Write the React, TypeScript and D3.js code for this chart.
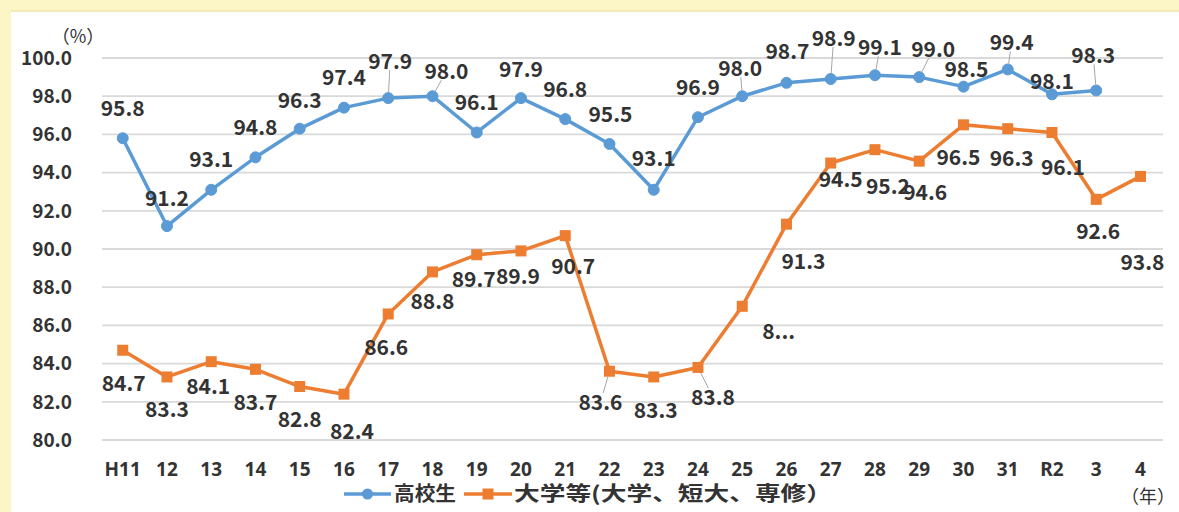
import React from "react";
import * as d3 from "d3";

const categories = ["H11","12","13","14","15","16","17","18","19","20","21","22","23","24","25","26","27","28","29","30","31","R2","3","4"];
const highSchool = [95.8,91.2,93.1,94.8,96.3,97.4,97.9,98.0,96.1,97.9,96.8,95.5,93.1,96.9,98.0,98.7,98.9,99.1,99.0,98.5,99.4,98.1,98.3];
const university = [84.7,83.3,84.1,83.7,82.8,82.4,86.6,88.8,89.7,89.9,90.7,83.6,83.3,83.8,87.0,91.3,94.5,95.2,94.6,96.5,96.3,96.1,92.6,93.8];
const yTicks = [80,82,84,86,88,90,92,94,96,98,100];
const seriesNames = ["高校生","大学等(大学、短大、専修）"];

// label placement (dx, dy from point, leader flag)
const blueLabelPos: [number, number, boolean][] = [
  [0,-30,false],[0,-28,false],[0,-30,false],[0,-30,false],[0,-28,false],[0,-30,false],
  [2,-37,true],[14,-25,true],[0,-30,false],[0,-29,false],[0,-30,false],[1,-30,false],
  [0,-31,false],[0,-30,false],[-2,-28,true],[1,-31,false],[3,-41,true],[5,-28,true],
  [14,-28,true],[3,-17,false],[4,-27,true],[0,-13,false],[-3,-35,true]
];
const orangeLabelPos: [number, number, boolean][] = [
  [1,33,false],[0,32,false],[-3,25,false],[0,33,false],[0,33,false],[8,37,false],
  [-2,33,false],[0,30,false],[-3,25,false],[-3,26,false],[8,31,false],[-9,31,true],
  [2,33,false],[15,30,true],[20,25,false],[17,37,false],[10,16,false],[13,37,false],
  [6,31,false],[-5,33,false],[4,30,false],[11,35,false],[2,32,false],[2,86,false]
];

const W = 1179, H = 512;
const BLUE = "#5b9bd5", ORANGE = "#ed7d31";
const FONT = "'Noto Sans CJK JP', 'Noto Sans', sans-serif";
const LATIN = "'Noto Sans', 'Noto Sans CJK JP', sans-serif";
const TXT = "#333333";

export default function App() {
  const x = d3.scaleBand<string>().domain(categories).range([100.6, 1162.6]);
  const cx = (i: number) => (x(categories[i]) as number) + x.bandwidth() / 2;
  const y = d3.scaleLinear().domain([80, 100]).range([440, 58]);

  const line = d3.line<number>().x((_, i) => cx(i)).y(d => y(d));

  const leader = (px: number, py: number, dx: number, dy: number, r: number) => {
    const len = Math.hypot(dx, dy);
    const ux = dx / len, uy = dy / len;
    const hw = 21, hh = 9;
    const t = Math.min(hw / Math.max(Math.abs(dx), 0.001), hh / Math.max(Math.abs(dy), 0.001));
    const ex = px + dx - dx * t, ey = py + dy - dy * t;
    return <line x1={px + ux * r} y1={py + uy * r} x2={ex} y2={ey} stroke="#a6a6a6" strokeWidth={1} />;
  };

  return (
    <div style={{ position: "absolute", left: 0, top: 0 }}>
      <svg width={W} height={H} style={{ display: "block" }}>
        <rect x={0} y={0} width={W} height={H} fill="#fcf6c6" />
        <rect x={11} y={11} width={W - 11} height={H - 11} fill="#ffffff" />
        <line x1={11} x2={W} y1={11} y2={11} stroke="#efe6a8" strokeWidth={1.5} />
        {/* gridlines */}
        {yTicks.map(t => (
          <line key={t} x1={102} x2={1163} y1={y(t)} y2={y(t)} stroke="#d9d9d9" strokeWidth={1.8} />
        ))}
        {/* y tick labels */}
        {yTicks.map(t => (
          <text key={t} x={72} y={y(t)} dy="0.36em" textAnchor="end" fontFamily={FONT} fontWeight="bold" fontSize={19} fill={TXT}>
            {t.toFixed(1)}
          </text>
        ))}
        <text x={78} y={37} dy="0.36em" textAnchor="middle" fontFamily={FONT} fontSize={18} fill={TXT}>（%）</text>
        {/* x tick labels */}
        {categories.map((c, i) => (
          <text key={c + i} x={cx(i)} y={469} dy="0.36em" textAnchor="middle" fontFamily={LATIN} fontWeight="bold" fontSize={19} fill={TXT}>
            {c}
          </text>
        ))}
        <text x={1148} y={497} dy="0.36em" textAnchor="middle" fontFamily={FONT} fontSize={18} fill={TXT}>（年）</text>

        {/* lines */}
        <path d={line(highSchool) || ""} fill="none" stroke={BLUE} strokeWidth={3.5} strokeLinejoin="round" />
        <path d={line(university) || ""} fill="none" stroke={ORANGE} strokeWidth={3.5} strokeLinejoin="round" />
        {highSchool.map((v, i) => (
          <circle key={i} cx={cx(i)} cy={y(v)} r={5.5} fill={BLUE} stroke={BLUE} />
        ))}
        {university.map((v, i) => (
          <rect key={i} x={cx(i) - 5.5} y={y(v) - 5.5} width={11} height={11} fill={ORANGE} />
        ))}

        {/* leaders */}
        {highSchool.map((v, i) => blueLabelPos[i][2] ? <g key={i}>{leader(cx(i), y(v), blueLabelPos[i][0], blueLabelPos[i][1], 6)}</g> : null)}
        {university.map((v, i) => orangeLabelPos[i][2] ? <g key={i}>{leader(cx(i), y(v), orangeLabelPos[i][0], orangeLabelPos[i][1], 6)}</g> : null)}

        {/* data labels */}
        {highSchool.map((v, i) => (
          <text key={i} x={cx(i) + blueLabelPos[i][0]} y={y(v) + blueLabelPos[i][1]} dy="0.36em" textAnchor="middle"
            fontFamily={FONT} fontWeight="bold" fontSize={21} fill={TXT}>{v.toFixed(1)}</text>
        ))}
        {university.map((v, i) => {
          const trunc = i === 14;
          return (
            <text key={i} x={cx(i) + orangeLabelPos[i][0]} y={y(v) + orangeLabelPos[i][1]} dy="0.36em" textAnchor={trunc ? "start" : "middle"}
              fontFamily={FONT} fontWeight="bold" fontSize={21} fill={TXT}>{trunc ? "8..." : v.toFixed(1)}</text>
          );
        })}

        {/* legend */}
        <g>
          <line x1={344} x2={391} y1={494} y2={494} stroke={BLUE} strokeWidth={3.5} />
          <circle cx={367.5} cy={494} r={5.5} fill={BLUE} />
          <text x={394} y={494} dy="0.36em" fontFamily={FONT} fontWeight="bold" fontSize={20}
            textLength={62} lengthAdjust="spacingAndGlyphs" fill={TXT}>{seriesNames[0]}</text>
          <line x1={464} x2={512} y1={494} y2={494} stroke={ORANGE} strokeWidth={3.5} />
          <rect x={482.5} y={488.5} width={11} height={11} fill={ORANGE} />
          <text x={514} y={494} dy="0.36em" fontFamily={FONT} fontWeight="bold" fontSize={20}
            textLength={318} lengthAdjust="spacingAndGlyphs" fill={TXT}>{seriesNames[1]}</text>
        </g>
      </svg>
    </div>
  );
}
